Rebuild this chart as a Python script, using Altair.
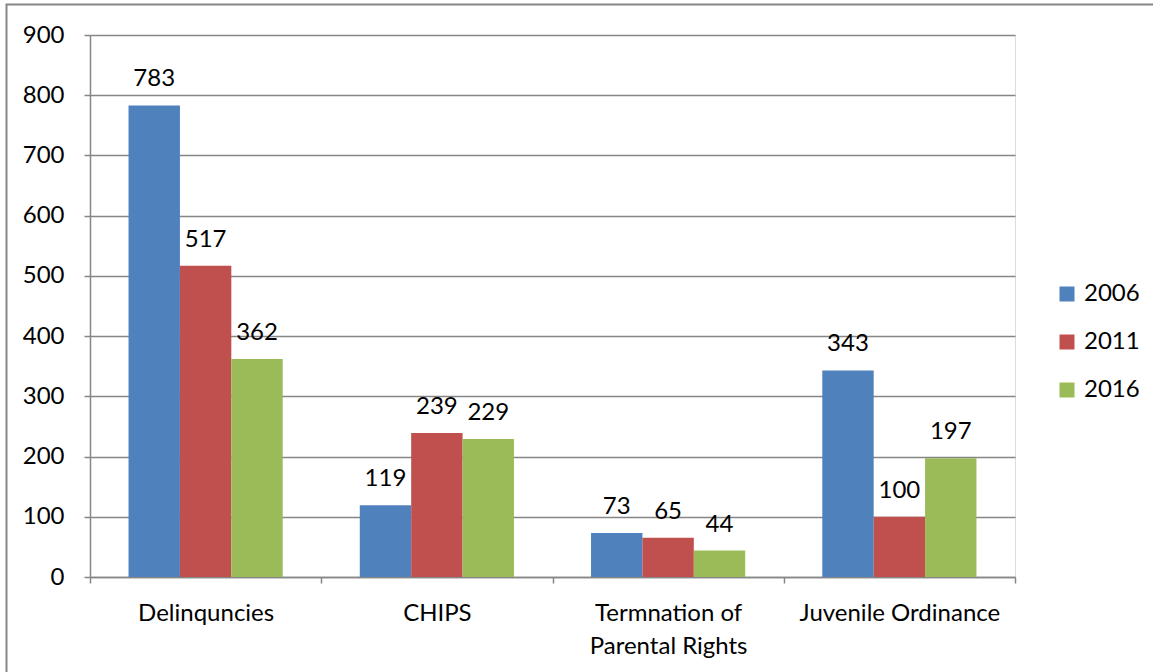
import altair as alt
import pandas as pd

categories = ["Delinquncies", "CHIPS", "Termnation of Parental Rights", "Juvenile Ordinance"]
years = ["2006", "2011", "2016"]
v2006 = [783, 119, 73, 343]
v2011 = [517, 239, 65, 100]
v2016 = [362, 229, 44, 197]
colors = ["#4F81BD", "#C0504D", "#9BBB59"]

rows = []
for i, c in enumerate(categories):
    for y, vals in zip(years, [v2006, v2011, v2016]):
        rows.append({"category": c, "year": y, "value": vals[i]})
df = pd.DataFrame(rows)

FONT = "Lato"
FS = 24
GRAY = "#868686"

x = alt.X("category:N", sort=categories, title=None,
          scale=alt.Scale(paddingInner=0, paddingOuter=0),
          axis=alt.Axis(labelAngle=0, tickBand="extent", labelFontSize=FS, labelFont=FONT,
                        labelColor="#000000", labelPadding=18, labelLineHeight=33, labelLimit=0,
                        labelExpr="datum.label == 'Termnation of Parental Rights' ? ['Termnation of', 'Parental Rights'] : datum.label",
                        tickSize=6, tickColor=GRAY, domainColor=GRAY, domainWidth=1.5, tickWidth=1.5,
                        grid=False))
xoff = alt.XOffset("year:N", sort=years, scale=alt.Scale(paddingInner=0, paddingOuter=0.75))
y = alt.Y("value:Q", title=None,
          scale=alt.Scale(domain=[0, 900]),
          axis=alt.Axis(values=list(range(0, 901, 100)), labelFontSize=FS, labelFont=FONT,
                        labelColor="#000000", labelPadding=20, tickSize=6, tickColor=GRAY,
                        domainColor=GRAY, domainWidth=1.5, tickWidth=1.5,
                        grid=True, gridColor=GRAY, gridWidth=1.5))

color = alt.Color("year:N", sort=years, title=None,
                  scale=alt.Scale(domain=years, range=colors),
                  legend=alt.Legend(orient="none", legendX=965, legendY=247,
                                    symbolType="square", symbolSize=225, symbolStrokeWidth=0,
                                    labelFontSize=FS, labelFont=FONT, labelColor="#000000",
                                    labelOffset=5, rowPadding=24))

base = alt.Chart(df)
bars = base.mark_bar().encode(x=x, xOffset=xoff, y=y, color=color)
labels = base.mark_text(baseline="alphabetic", dy=-19, fontSize=FS, font=FONT, color="#000000").encode(
    x=alt.X("category:N", sort=categories), xOffset=xoff, y="value:Q", text="value:Q")

border = alt.Chart(pd.DataFrame({"a": [0]})).mark_rect(fill=None, stroke=GRAY, strokeWidth=2).encode(
    x=alt.value(-83.5), x2=alt.value(1100), y=alt.value(-30.5), y2=alt.value(700))

chart = alt.layer(bars, labels, border).properties(
    width=925, height=542,
    autosize=alt.AutoSizeParams(type="none"),
    padding={"left": 90, "top": 35, "right": 138, "bottom": 95},
).configure_view(stroke=None).configure(background="#ffffff")

chart.save("out.html", embed_options={"renderer": "svg", "actions": False})
